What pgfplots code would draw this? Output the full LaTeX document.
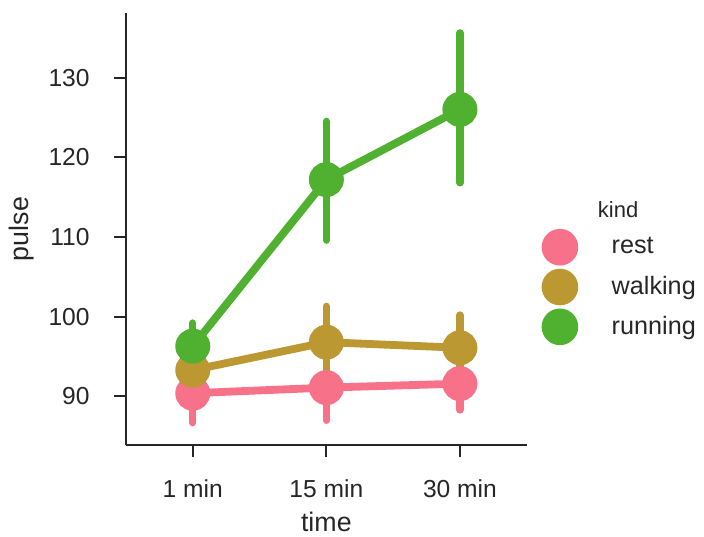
\documentclass[border=0pt]{standalone}
\usepackage{pgfplots}
\pgfplotsset{compat=1.18}
\usepackage{fontspec}
\setmainfont{Liberation Sans}
\definecolor{restc}{HTML}{F77189}
\definecolor{walkc}{HTML}{BB9832}
\definecolor{runc}{HTML}{50B131}
\definecolor{spine}{HTML}{262626}
\begin{document}
\begin{tikzpicture}
\begin{axis}[
  scale only axis,
  width=200.35pt, height=216pt,
  xmin=-0.5, xmax=2.5,
  ymin=83.9, ymax=138.1,
  axis x line*=bottom, axis y line*=left,
  axis line style={spine, line width=1pt},
  tick style={spine, line width=1pt},
  tick align=outside,
  major tick length=6pt,
  xtick={0,1,2},
  xticklabels={1 min,15 min,30 min},
  ytick={90,100,110,120,130},
  /pgf/number format/assume math mode=true,
  tick label style={font=\fontsize{12.3}{14}\selectfont, text=spine},
  xticklabel style={inner sep=0pt, anchor=north, yshift=-11pt},
  yticklabel style={inner sep=0pt, anchor=east, xshift=-12pt},
  xlabel={time}, ylabel={pulse},
  label style={font=\fontsize{13.4}{15}\selectfont, text=spine},
  xlabel style={at={(rel axis cs:0.5,0)}, anchor=center, yshift=-38.5pt, inner sep=0pt},
  ylabel style={at={(rel axis cs:0,0.5)}, anchor=center, yshift=52pt, inner sep=0pt},
  every axis plot/.append style={line width=3.9pt, line cap=round, line join=round},
  error bars/y dir=both, error bars/y explicit,
  error bars/error mark=none,
  legend image code/.code={\draw[#1, only marks, mark size=7.2pt] plot coordinates {(0pt,0pt)};},
  legend style={draw=none, fill=none, at={(rel axis cs:1.047,0.3657)}, anchor=west,
    inner sep=0pt, outer sep=0pt, row sep=5.5pt,
    font=\fontsize{12.6}{14}\selectfont, text=spine,
    nodes={inner sep=0pt},
    /tikz/every odd column/.append style={column sep=18.7pt}},
  legend cell align=left,
  clip=false,
]
\addplot[restc, mark=*, mark size=6.8pt, mark options={solid, fill=restc, draw=restc},
  error bars/error bar style={restc, line width=3.7pt, line cap=round}]
  coordinates {
  (0,90.4) += (0,3.7) -= (0,3.7)
  (1,91.1) += (0,3.9) -= (0,4.1)
  (2,91.6) += (0,3.4) -= (0,3.3)
};
\addlegendentry{rest}
\addplot[walkc, mark=*, mark size=6.8pt, mark options={solid, fill=walkc, draw=walkc},
  error bars/error bar style={walkc, line width=3.7pt, line cap=round}]
  coordinates {
  (0,93.3) += (0,3.4) -= (0,3.3)
  (1,96.8) += (0,4.5) -= (0,4.5)
  (2,96.1) += (0,4.1) -= (0,4.0)
};
\addlegendentry{walking}
\addplot[runc, mark=*, mark size=6.8pt, mark options={solid, fill=runc, draw=runc},
  error bars/error bar style={runc, line width=3.7pt, line cap=round}]
  coordinates {
  (0,96.3) += (0,2.9) -= (0,2.9)
  (1,117.2) += (0,7.3) -= (0,7.6)
  (2,126.0) += (0,9.6) -= (0,9.2)
};
\addlegendentry{running}
\node[font=\fontsize{11}{13}\selectfont, text=spine, anchor=center] at (rel axis cs:1.228,0.544) {kind};
\end{axis}
\pgfresetboundingbox
\path[use as bounding box] ([xshift=-63pt,yshift=-45.5pt]current axis.south west) rectangle ++(352pt,268pt);
\end{tikzpicture}
\end{document}
